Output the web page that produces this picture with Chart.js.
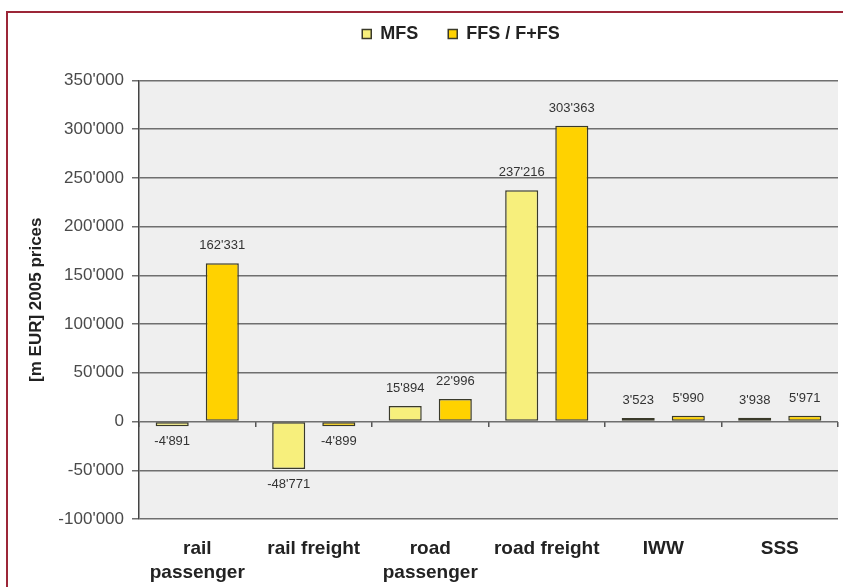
<!DOCTYPE html>
<html>
<head>
<meta charset="utf-8">
<script src="https://cdn.jsdelivr.net/npm/chart.js@4"></script>
<style>
  html, body { margin: 0; padding: 0; background: #ffffff; overflow: hidden; }
  #wrap { position: relative; width: 843px; height: 587px; }
  #frame { position: absolute; left: 6px; top: 11px; width: 900px; height: 700px;
           border: 2px solid #9c2638; pointer-events: none; }
  canvas { position: absolute; left: 0; top: 0; }
</style>
</head>
<body>
<div id="wrap">
  <canvas id="costChart" width="843" height="587"></canvas>
  <div id="frame"></div>
</div>
<script>
// 類別與數值
const categories = [['rail', 'passenger'], 'rail freight', ['road', 'passenger'], 'road freight', 'IWW', 'SSS'];
const seriesNames = ['MFS', 'FFS / F+FS'];
const mfsValues = [-4891, -48771, 15894, 237216, 3523, 3938];
const ffsValues = [162331, -4899, 22996, 303363, 5990, 5971];
const yTicks = [-100000, -50000, 0, 50000, 100000, 150000, 200000, 250000, 300000, 350000];

const FONT = '"Liberation Sans", Arial, sans-serif';

// 千分位用 ' 分隔
function fmt(v) {
    const s = Math.abs(v).toString().replace(/\B(?=(\d{3})+(?!\d))/g, "'");
    return (v < 0 ? '-' : '') + s;
}

// 繪圖區背景
const plotBg = {
    id: 'plotBg',
    beforeDraw(chart) {
        const a = chart.chartArea;
        const ctx = chart.ctx;
        ctx.save();
        ctx.fillStyle = '#efefef';
        ctx.fillRect(a.left, a.top, a.right - a.left, a.bottom - a.top);
        ctx.restore();
    }
};

// 圖例往右移, 對齊原圖
const legendShift = {
    id: 'legendShift',
    afterLayout(chart) {
        if (chart.legend) {
            chart.legend.left += 84;
        }
    }
};

// 柱上數值
const valueLabels = {
    id: 'valueLabels',
    afterDatasetsDraw(chart) {
        const ctx = chart.ctx;
        ctx.save();
        ctx.font = '13px ' + FONT;
        ctx.fillStyle = '#333333';
        ctx.textAlign = 'center';
        chart.data.datasets.forEach((ds, i) => {
            const meta = chart.getDatasetMeta(i);
            meta.data.forEach((bar, j) => {
                const v = ds.data[j];
                if (v >= 0) {
                    ctx.textBaseline = 'bottom';
                    ctx.fillText(fmt(v), bar.x, bar.y - 11);
                } else {
                    ctx.textBaseline = 'top';
                    ctx.fillText(fmt(v), bar.x, bar.y + 9);
                }
            });
        });
        ctx.restore();
    }
};

const ctx = document.getElementById('costChart').getContext('2d');

const BarChart = new Chart(ctx, {
    type: 'bar',
    data: {
        labels: categories,
        datasets: [{
            label: seriesNames[0],
            data: mfsValues,
            backgroundColor: '#f7ef7c',
            borderColor: '#3a3a2a',
            borderWidth: 1.5,
            borderSkipped: false
        }, {
            label: seriesNames[1],
            data: ffsValues,
            backgroundColor: '#ffd200',
            borderColor: '#3a3a2a',
            borderWidth: 1.5,
            borderSkipped: false
        }]
    },
    options: {
        responsive: false,
        animation: false,
        categoryPercentage: 0.86,
        barPercentage: 0.66,
        layout: {
            padding: { top: -5, right: 5, left: 0, bottom: 0 }
        },
        scales: {
            x: {
                position: 'bottom',
                grid: { display: false, drawTicks: false },
                border: { display: false },
                ticks: {
                    padding: 18,
                    color: '#222222',
                    font: { size: 19, weight: 'bold', family: FONT, lineHeight: 1.25 },
                    maxRotation: 0,
                    autoSkip: false
                },
                afterFit(scale) { scale.height = 68; }
            },
            x2: {
                type: 'category',
                position: { y: 0 },
                grid: { offset: true, drawOnChartArea: false, tickLength: 5, color: '#555555', lineWidth: 1.5 },
                border: { display: false },
                ticks: { display: false }
            },
            y: {
                min: yTicks[0],
                max: yTicks[yTicks.length - 1],
                afterBuildTicks(scale) {
                    scale.ticks = yTicks.map(v => ({ value: v }));
                },
                grid: { color: '#6f6f6f', lineWidth: 1.5, tickLength: 7 },
                border: { color: '#444444', width: 1.5 },
                ticks: {
                    padding: 8,
                    color: '#4a4a4a',
                    font: { size: 17, family: FONT },
                    callback: v => fmt(v)
                },
                title: {
                    display: true,
                    text: '[m EUR] 2005 prices',
                    color: '#222222',
                    font: { size: 17, weight: 'bold', family: FONT },
                    padding: { top: 26, bottom: 0 }
                },
                afterFit(scale) { scale.width = 139; }
            }
        },
        plugins: {
            legend: {
                position: 'top',
                labels: {
                    boxWidth: 9,
                    boxHeight: 9,
                    padding: 30,
                    color: '#222222',
                    font: { size: 18, weight: 'bold', family: FONT }
                }
            },
            // 圖例與繪圖區之間的空白
            subtitle: {
                display: true,
                text: '',
                weight: 500,
                font: { size: 2 },
                padding: { top: 0, bottom: 25 }
            },
            tooltip: { enabled: false }
        }
    },
    plugins: [plotBg, legendShift, valueLabels]
});
</script>
</body>
</html>
